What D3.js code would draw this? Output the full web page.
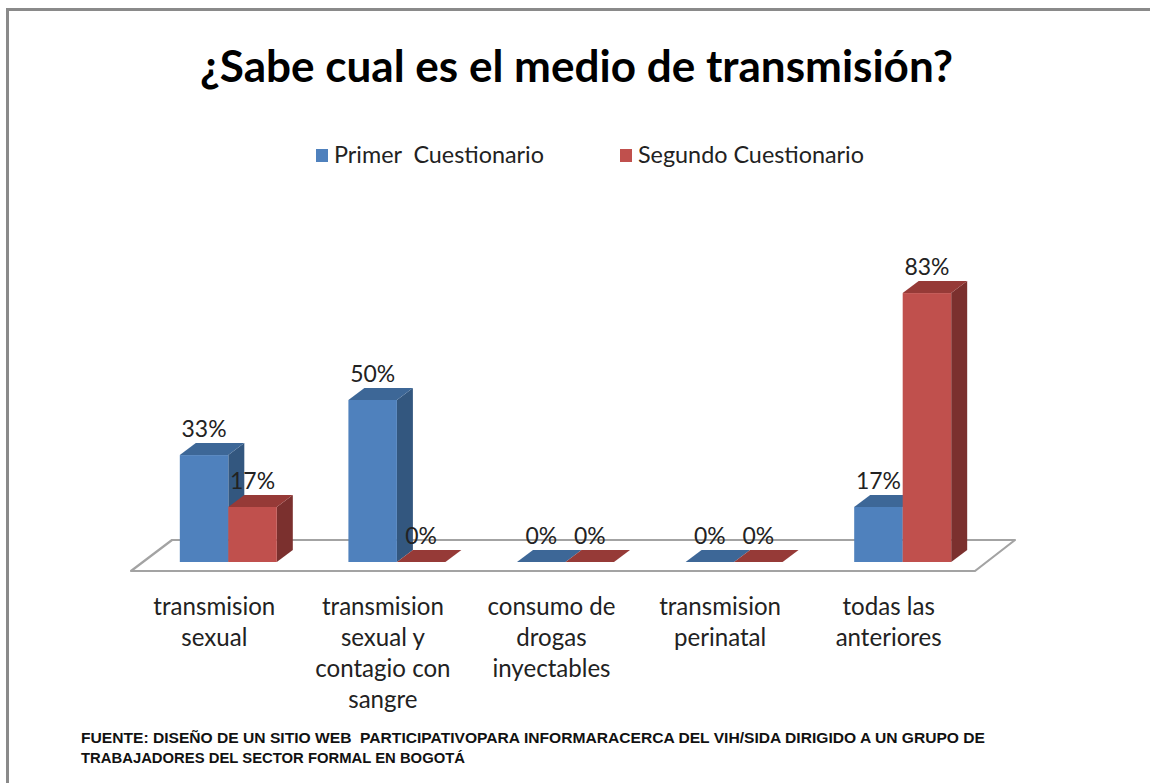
<!DOCTYPE html>
<html>
<head>
<meta charset="utf-8">
<script src="https://cdn.jsdelivr.net/npm/d3@7"></script>
<style>
  html, body { margin: 0; padding: 0; background: #ffffff; }
  svg { display: block; }
</style>
</head>
<body>
<svg id="chart" width="1150" height="783"></svg>
<script>
// ---- data ----
const categories = [
  "transmision sexual",
  "transmision sexual y contagio con sangre",
  "consumo de drogas inyectables",
  "transmision perinatal",
  "todas las anteriores"
];
const categoryLines = [
  ["transmision", "sexual"],
  ["transmision", "sexual y", "contagio con", "sangre"],
  ["consumo de", "drogas", "inyectables"],
  ["transmision", "perinatal"],
  ["todas las", "anteriores"]
];
const seriesNames = ["Primer  Cuestionario", "Segundo Cuestionario"];
const primerValues = [33, 50, 0, 0, 17];
const segundoValues = [17, 0, 0, 0, 83];
const valueLabels1 = ["33%", "50%", "0%", "0%", "17%"];
const valueLabels2 = ["17%", "0%", "0%", "0%", "83%"];
const titleText = "¿Sabe cual es el medio de transmisión?";
const footerLines = [
  "FUENTE: DISEÑO DE UN SITIO WEB  PARTICIPATIVOPARA INFORMARACERCA DEL VIH/SIDA DIRIGIDO A UN GRUPO DE",
  "TRABAJADORES DEL SECTOR FORMAL EN BOGOTÁ"
];

// ---- styles ----
const colors = [
  { front: "#4f81bd", top: "#3d6797", side: "#33577f" },
  { front: "#c0504d", top: "#963a37", side: "#7b302e" }
];
const FONT = "Lato, 'Open Sans', sans-serif";
const svg = d3.select("#chart");

// frame
svg.append("rect")
  .attr("x", 7.5).attr("y", 9.5).attr("width", 1200).attr("height", 900)
  .attr("fill", "none").attr("stroke", "#8a8a8a").attr("stroke-width", 3);

// helper to fit text width
function fitSize(text, weight, target, family) {
  const t = svg.append("text").attr("font-family", family || FONT)
    .attr("font-weight", weight).attr("font-size", 100).text(text);
  const w = t.node().getComputedTextLength();
  t.remove();
  return 100 * target / w;
}

// ---- scales ----
const x = d3.scaleBand().domain(categories).range([144, 987])
  .paddingInner(0.4247).paddingOuter(0.2124);
const xs = d3.scaleBand().domain(seriesNames).range([0, x.bandwidth()]);
const y = d3.scaleLinear().domain([0, 100]).range([562, 238]);

const depthX = 16, depthY = -12;

// floor
const floorFront = 571, floorBack = 540;
const floorPts = [[131, floorFront], [172, floorBack], [1015, floorBack], [975, floorFront]];
svg.append("path")
  .attr("d", "M" + floorPts.map(p => p.join(",")).join("L") + "Z")
  .attr("fill", "#ffffff").attr("stroke", "#a3a3a3").attr("stroke-width", 2.2)
  .attr("stroke-linejoin", "round");

// title
const titleSize = fitSize(titleText, "bold", 753);
svg.append("text")
  .attr("x", 576.5).attr("y", 82).attr("text-anchor", "middle")
  .attr("font-family", FONT).attr("font-weight", "bold")
  .attr("font-size", titleSize).attr("fill", "#000")
  .text(titleText);

// legend
const legendX = [316, 620];
const legendSize = fitSize("Segundo Cuestionario", "normal", 226);
seriesNames.forEach((name, i) => {
  svg.append("rect").attr("x", legendX[i]).attr("y", 149).attr("width", 12).attr("height", 13)
    .attr("fill", colors[i].front);
  svg.append("text").attr("x", legendX[i] + 18).attr("y", 163)
    .attr("font-family", FONT).attr("font-size", legendSize).attr("fill", "#222")
    .attr("xml:space", "preserve").style("white-space", "pre")
    .text(name);
});

// bars
const seriesValues = [primerValues, segundoValues];
const seriesLabels = [valueLabels1, valueLabels2];
const barsG = svg.append("g");
const labelSize = fitSize("33%", "normal", 45);

categories.forEach((cat, ci) => {
  seriesNames.forEach((s, si) => {
    const v = seriesValues[si][ci];
    const x0 = x(cat) + xs(s);
    const x1 = x0 + xs.bandwidth();
    const y0 = y(0);
    const yt = y(v);
    const c = colors[si];
    const g = barsG.append("g");
    if (v > 0) {
      g.append("path")
        .attr("d", `M${x1},${y0}L${x1 + depthX},${y0 + depthY}L${x1 + depthX},${yt + depthY}L${x1},${yt}Z`)
        .attr("fill", c.side);
      g.append("rect").attr("x", x0).attr("y", yt).attr("width", x1 - x0).attr("height", y0 - yt)
        .attr("fill", c.front);
    }
    g.append("path")
      .attr("d", `M${x0},${yt}L${x0 + depthX},${yt + depthY}L${x1 + depthX},${yt + depthY}L${x1},${yt}Z`)
      .attr("fill", c.top);
  });
});

// value labels
categories.forEach((cat, ci) => {
  seriesNames.forEach((s, si) => {
    const v = seriesValues[si][ci];
    const cx = x(cat) + xs(s) + xs.bandwidth() / 2;
    svg.append("text")
      .attr("x", cx).attr("y", y(v) - 18)
      .attr("text-anchor", "middle")
      .attr("font-family", FONT).attr("font-size", labelSize).attr("fill", "#222")
      .text(seriesLabels[si][ci]);
  });
});

// category labels
const catSize = fitSize("transmision", "normal", 122);
categories.forEach((cat, ci) => {
  const cx = x(cat) + x.bandwidth() / 2 - 14;
  const t = svg.append("text")
    .attr("text-anchor", "middle")
    .attr("font-family", FONT).attr("font-size", catSize).attr("fill", "#222");
  categoryLines[ci].forEach((line, li) => {
    t.append("tspan").attr("x", cx).attr("y", 615 + li * 31).text(line);
  });
});

// footer
const footerFamily = "'Liberation Sans Narrow', 'Liberation Sans', Arial, sans-serif";
const footerWidths = [904, 384];
footerLines.forEach((line, i) => {
  svg.append("text")
    .attr("x", 81).attr("y", 743 + i * 20)
    .attr("font-family", footerFamily).attr("font-weight", "bold")
    .attr("font-size", 14.5).attr("fill", "#111")
    .attr("textLength", footerWidths[i]).attr("lengthAdjust", "spacingAndGlyphs")
    .attr("xml:space", "preserve").style("white-space", "pre")
    .text(line);
});
</script>
</body>
</html>
